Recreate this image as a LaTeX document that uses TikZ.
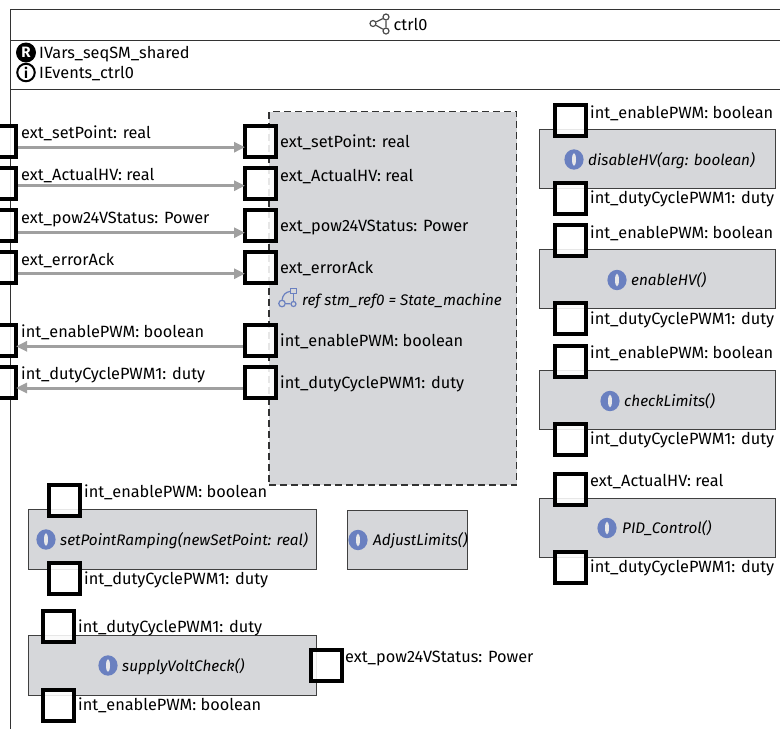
\documentclass[tikz,border=0pt]{standalone}
\usepackage{fontspec}
\setmainfont{Fira Sans}
\usetikzlibrary{arrows.meta,calc}
\definecolor{boxgrey}{HTML}{D6D7DA}
\definecolor{iconblue}{HTML}{6A80C0}
\definecolor{wiregrey}{HTML}{A0A0A0}
\tikzset{
  x=1pt,y=-1pt,
  portbox/.style={draw=black,line width=4pt,fill=white,fill opacity=.88,draw opacity=1,minimum size=31pt,inner sep=0pt,outer sep=0pt},
  opbox/.style={draw=black!75,line width=1pt,fill=boxgrey,inner sep=0pt},
  lab/.style={anchor=west,inner sep=0pt,text height=14.6pt,text depth=3pt,font=\fontsize{16.3}{18}\selectfont},
  optext/.style={anchor=west,inner sep=0pt,text height=14.6pt,text depth=3pt,font=\fontsize{15.3}{18}\selectfont\itshape},
  wire/.style={draw=wiregrey,line width=3pt,-{Triangle[length=11pt,width=10pt]},shorten <=2pt},
  frameline/.style={draw=black!80,line width=1pt},
  smallnode/.style={circle,draw=black!70,line width=1.2pt,fill=white,minimum size=6pt,inner sep=0pt},
}
\newcommand{\opicon}[2]{%
  \fill[iconblue] (#1,#2) ellipse [x radius=9.6pt,y radius=10.2pt];
  \fill[boxgrey!60!white] (#1,#2) ellipse [x radius=2pt,y radius=6.4pt];
}
\begin{document}
\begin{tikzpicture}
\useasboundingbox (0,0) rectangle (780,729);
% frame
\draw[frameline] (780,9) -- (10.5,9) -- (10.5,729);
\draw[frameline] (10.5,40) -- (780,40);
\draw[frameline] (10.5,89) -- (780,89);
% title icon
\node[smallnode] (ca) at (373,23.5) {};
\node[smallnode] (cb) at (386,17) {};
\node[smallnode] (cc) at (386,31) {};
\draw[black!70,line width=1.2pt] (ca) -- (cb) (ca) -- (cc) (cb) -- (cc);
\node[lab] (title) at (393.5,25) {ctrl0};
% interface lines
\node[circle,fill=black,minimum size=20pt,inner sep=0pt,text=white,font=\fontsize{15}{15}\selectfont\bfseries] (ricon) at (26,52.5) {R};
\node[circle,draw=black,line width=2pt,minimum size=17.5pt,inner sep=0pt,font=\fontsize{14}{14}\selectfont\bfseries] (iicon) at (26,72.5) {i};
\node[lab] (ivars) at (39,53) {IVars\_seqSM\_shared};
\node[lab] (ievents) at (39,72.5) {IEvents\_ctrl0};
% state machine ref
\node[draw=black!80,dash pattern=on 7pt off 4pt,line width=1.2pt,fill=boxgrey,minimum width=247.5pt,minimum height=373.5pt,inner sep=0pt] (stm) at (392.75,298.25) {};
% operation boxes
\node[opbox,minimum width=236pt,minimum height=59pt] (dis) at (657.5,158.5) {};
\node[opbox,minimum width=236pt,minimum height=59pt] (ena) at (657.5,278.5) {};
\node[opbox,minimum width=236pt,minimum height=59pt] (chk) at (657.5,400) {};
\node[opbox,minimum width=236pt,minimum height=59pt] (pid) at (657.5,527.5) {};
\node[opbox,minimum width=288pt,minimum height=60pt] (spr) at (172,539) {};
\node[opbox,minimum width=120pt,minimum height=59pt] (adj) at (407,539.5) {};
\node[opbox,minimum width=288pt,minimum height=60pt] (svc) at (172,665.5) {};
% left ports
\node[portbox] (l1) at (0.5,141) {};
\node[portbox] (l2) at (0.5,183) {};
\node[portbox] (l3) at (0.5,225.5) {};
\node[portbox] (l4) at (0.5,267.5) {};
\node[portbox] (l5) at (0.5,340) {};
\node[portbox] (l6) at (0.5,382.5) {};
% stm ports
\node[portbox] (r1) at (260.5,141) {};
\node[portbox] (r2) at (260.5,183) {};
\node[portbox] (r3) at (260.5,225.5) {};
\node[portbox] (r4) at (260.5,267.5) {};
\node[portbox] (r5) at (260.5,340) {};
\node[portbox] (r6) at (260.5,382.5) {};
% connectors
\draw[wire] ([yshift=-6.2pt]l1.east) -- ([yshift=-6.2pt]r1.west);
\draw[wire] ([yshift=-2.7pt]l2.east) -- ([yshift=-2.7pt]r2.west);
\draw[wire] ([yshift=-7.2pt]l3.east) -- ([yshift=-7.2pt]r3.west);
\draw[wire] ([yshift=-6.2pt]l4.east) -- ([yshift=-6.2pt]r4.west);
\draw[wire] ([yshift=-6.3pt]r5.west) -- ([yshift=-6.3pt]l5.east);
\draw[wire] ([yshift=-5.5pt]r6.west) -- ([yshift=-5.5pt]l6.east);
% left labels
\node[lab] (ll1) at (21,133) {ext\_setPoint: real};
\node[lab] (ll2) at (21,175) {ext\_ActualHV: real};
\node[lab] (ll3) at (21,218) {ext\_pow24VStatus: Power};
\node[lab] (ll4) at (21,260) {ext\_errorAck};
\node[lab] (ll5) at (21,332) {int\_enablePWM: boolean};
\node[lab] (ll6) at (21,374) {int\_dutyCyclePWM1: duty};
% stm labels
\node[lab] (rl1) at (280,142) {ext\_setPoint: real};
\node[lab] (rl2) at (280,176) {ext\_ActualHV: real};
\node[lab] (rl3) at (280,226) {ext\_pow24VStatus: Power};
\node[lab] (rl4) at (280,268) {ext\_errorAck};
\node[lab] (rl5) at (280,341) {int\_enablePWM: boolean};
\node[lab] (rl6) at (280,383) {int\_dutyCyclePWM1: duty};
% ref icon
\node[draw=iconblue,line width=1.2pt,fill=boxgrey,minimum size=5.5pt,inner sep=0pt] (ia) at (293.5,291) {};
\node[circle,draw=iconblue,line width=1.2pt,fill=boxgrey,minimum size=6.5pt,inner sep=0pt] (ib) at (282,303.5) {};
\node[circle,draw=iconblue,line width=1.2pt,fill=boxgrey,minimum size=5pt,inner sep=0pt] (ic) at (293.5,304) {};
\draw[iconblue,line width=1.2pt] (ib) to[bend left=40] (ia);
\draw[iconblue,line width=1.2pt] (ib) -- (ic);
\draw[iconblue,line width=1.2pt] (ic) -- (ia);
\node[optext] (reftxt) at (302,300) {ref stm\_ref0 = State\_machine};
% disableHV
\node[portbox] (d1) at (570,120.5) {};
\node[portbox] (d2) at (570,198) {};
\node[lab] at (590,113) {int\_enablePWM: boolean};
\node[lab] at (590,198) {int\_dutyCyclePWM1: duty};
\opicon{574}{159.5}
\node[optext] (dist) at (588,160) {disableHV(arg: boolean)};
% enableHV
\node[portbox] (e1) at (570,240.5) {};
\node[portbox] (e2) at (570,318) {};
\node[lab] at (590,233) {int\_enablePWM: boolean};
\node[lab] at (590,319) {int\_dutyCyclePWM1: duty};
\opicon{617}{280}
\node[optext] (enat) at (631,280) {enableHV()};
% checkLimits
\node[portbox] (c1) at (570,361) {};
\node[portbox] (c2) at (570,439) {};
\node[lab] at (590,353) {int\_enablePWM: boolean};
\node[lab] at (590,439) {int\_dutyCyclePWM1: duty};
\opicon{610}{401}
\node[optext] (chkt) at (624,401) {checkLimits()};
% PID
\node[portbox] (p1) at (570,489) {};
\node[portbox] (p2) at (570,567) {};
\node[lab] at (590,481) {ext\_ActualHV: real};
\node[lab] at (590,567) {int\_dutyCyclePWM1: duty};
\opicon{607}{528}
\node[optext] (pidt) at (622,528) {PID\_Control()};
% setPointRamping
\node[portbox] (s1) at (64.5,500.5) {};
\node[portbox] (s2) at (64.5,578.5) {};
\node[lab] at (84,492) {int\_enablePWM: boolean};
\node[lab] at (84,579) {int\_dutyCyclePWM1: duty};
\opicon{46}{539.5}
\node[optext] (sprt) at (60,540) {setPointRamping(newSetPoint: real)};
% AdjustLimits
\opicon{358}{540}
\node[optext] (adjt) at (373,540) {AdjustLimits()};
% supplyVoltCheck
\node[portbox] (v1) at (58.5,626) {};
\node[portbox] (v2) at (58.5,705) {};
\node[portbox] (v3) at (326,665) {};
\node[lab] at (78,627) {int\_dutyCyclePWM1: duty};
\node[lab] at (78,705) {int\_enablePWM: boolean};
\node[lab] at (345,657) {ext\_pow24VStatus: Power};
\opicon{108}{665.5}
\node[optext] (svct) at (122,666) {supplyVoltCheck()};
\end{tikzpicture}
\end{document}
